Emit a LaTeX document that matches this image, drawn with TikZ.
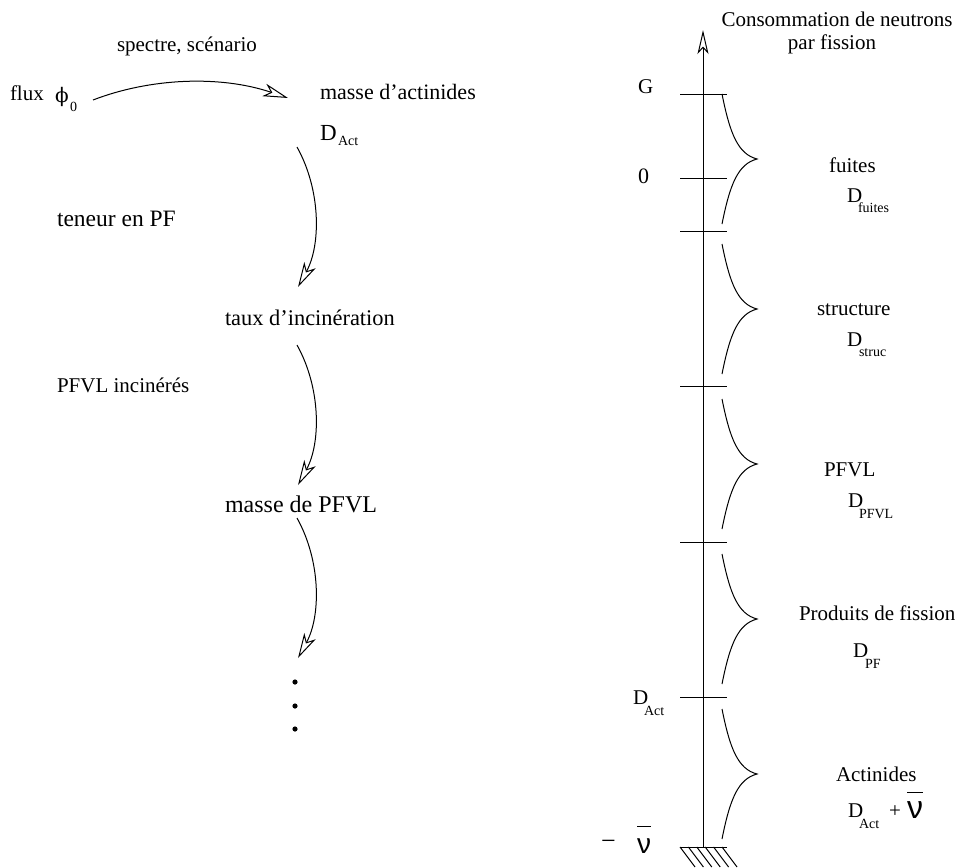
\documentclass[tikz,border=0pt]{standalone}
\usepackage{fontspec}
\setmainfont{Liberation Serif}
\newfontfamily\grk{Liberation Sans}
\newfontfamily\phifont{DejaVu Serif}
\usetikzlibrary{arrows.meta}
\newcommand\nubarsym[2]{\setbox0\hbox{\fontsize{#1}{#1}\grk ν}\vbox{\hrule height 1.3pt width \wd0\kern#2\box0}}
\tikzset{
  lbl/.style={anchor=base west, inner sep=0pt, outer sep=0pt, font=\fontsize{21}{24}\selectfont},
  lblb/.style={lbl, font=\fontsize{23.5}{26}\selectfont},
  subs/.style={anchor=base west, inner sep=0pt, outer sep=0pt, font=\fontsize{14}{16}\selectfont},
  conn/.style={line width=1pt, -{Stealth[open, length=25pt, width=13pt, inset=7pt]}},
  thinline/.style={line width=1pt},
}
\begin{document}
\begin{tikzpicture}[x=1pt,y=-1pt]
\useasboundingbox (0,0) rectangle (960,867);
% ---------- left part ----------
\node[lbl] (spec) at (117,52) {spectre, scénario};
\node[lbl] (flux) at (10,100) {flux};
\node[lbl, font=\fontsize{20}{24}\phifont] (phi) at (55,102) {ϕ};
\node[subs] (phisub) at (70,111) {0};
\node[lbl, font=\fontsize{22}{24}\selectfont] (mact) at (320,99) {masse d’actinides};
\node[lbl, font=\fontsize{23}{24}\selectfont] (dact) at (320,140) {D};
\node[subs] (dactsub) at (338,145) {Act};
\node[lblb] (teneur) at (57,226) {teneur en PF};
\node[lbl, font=\fontsize{22.4}{24}\selectfont] (taux) at (225,325) {taux d’incinération};
\node[lbl] (pfvli) at (57,392) {PFVL incinérés};
\node[lbl, font=\fontsize{24}{26}\selectfont] (mpfvl) at (225,512) {masse de PFVL};

\coordinate (a1s) at (93,100);  \coordinate (a1e) at (288,98);
\coordinate (a2s) at (297,147); \coordinate (a2e) at (298,287);
\coordinate (a3s) at (297,345); \coordinate (a3e) at (298,485);
\coordinate (a4s) at (297,518); \coordinate (a4e) at (298,658);
\draw[conn] (a1s) .. controls (150,78) and (220,75) .. (a1e);
\draw[conn] (a2s) .. controls (321,190) and (321,245) .. (a2e);
\draw[conn] (a3s) .. controls (321,388) and (321,443) .. (a3e);
\draw[conn] (a4s) .. controls (321,561) and (321,616) .. (a4e);
\foreach \y in {682,706,729} \fill (295,\y) circle (2.6);

% ---------- right part ----------
\coordinate (axb) at (703,847); \coordinate (axt) at (703,30);
\draw[thinline, -{Stealth[open, length=24pt, width=11pt, inset=6pt]}] (axb) -- (axt);
\foreach \y in {94,178,231,386,542,697} \draw[thinline] (680,\y) -- (727,\y);
\draw[thinline] (680,847) -- (727,847);
\foreach \i in {0,...,5} \draw[thinline] (680+8.4*\i,847) -- (695+8.4*\i,867);
\foreach \t in {94,244,399,554,709}
  \draw[thinline] (722,\t) .. controls (730,\t+40) and (738,\t+60) .. (757,\t+65)
                  .. controls (738,\t+70) and (730,\t+90) .. (722,\t+130);

\node[lbl, anchor=base] (t1) at (837,27) {Consommation de neutrons};
\node[lbl, anchor=base] (t2) at (832,50) {par fission};
\node[lbl] (G) at (638,93) {G};
\node[lbl, font=\fontsize{22}{24}\selectfont] (zero) at (638,183) {0};
\node[lbl] (dact2) at (633,704) {D};
\node[subs] (dact2s) at (644,715) {Act};
\node[lbl, font=\fontsize{26}{28}\selectfont] (minus) at (601,849) {−};
\node[lbl] (nub) at (637,853) {\nubarsym{28}{11pt}};

\node[lbl] (fuites) at (829,172) {fuites};
\node[lbl] (df) at (847,202) {D};
\node[subs] (dfs) at (858,212) {fuites};
\node[lbl] (struct) at (817,315) {structure};
\node[lbl] (ds) at (847,346) {D};
\node[subs] (dss) at (859,356) {struc};
\node[lbl] (pfvl) at (824,476) {PFVL};
\node[lbl] (dp) at (848,507) {D};
\node[subs] (dps) at (859,518) {PFVL};
\node[lbl] (prod) at (799,620) {Produits de fission};
\node[lbl] (dpf) at (853,657) {D};
\node[subs] (dpfs) at (865,668) {PF};
\node[lbl] (actin) at (836,781) {Actinides};
\node[lbl] (da) at (848,817) {D};
\node[subs] (das) at (859,828) {Act};
\node[lbl] (plus) at (889,817) {+};
\node[lbl] (nua) at (907,818) {\nubarsym{32}{8pt}};
\end{tikzpicture}
\end{document}
